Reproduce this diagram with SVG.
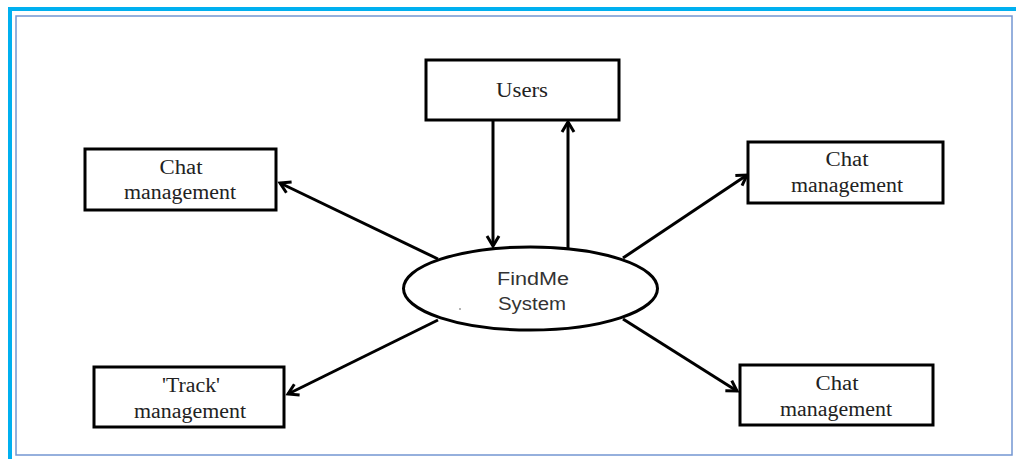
<svg xmlns="http://www.w3.org/2000/svg" width="1016" height="459" viewBox="0 0 1016 459">
<style>
.box{fill:#fff;stroke:#000;stroke-width:3}
.lbl{font-family:"Liberation Serif","Times New Roman",serif;font-size:20px;fill:#222;text-anchor:middle}
.sys{font-family:"Liberation Sans",Arial,sans-serif;font-size:18px;fill:#333;text-anchor:middle}
.conn{stroke:#000;stroke-width:3;fill:none}
</style>
<defs>
<marker id="ah" markerUnits="userSpaceOnUse" markerWidth="20" markerHeight="20" viewBox="-14 -10 18 20" refX="0" refY="0" orient="auto">
<path d="M -10 -6 L 0 0 L -10 6" fill="none" stroke="#000" stroke-width="3" stroke-linejoin="miter"/>
</marker>
</defs>
<rect x="-2" y="0" width="1030" height="470" fill="#fff"/>
<rect x="10" y="9" width="1020" height="470" fill="none" stroke="#00B0F0" stroke-width="4"/>
<rect x="16" y="16" width="996" height="439" fill="none" stroke="#7396D2" stroke-width="1.5"/>
<g id="connectors">
<line class="conn" x1="493" y1="120" x2="493" y2="246" marker-end="url(#ah)"/>
<line class="conn" x1="568" y1="249" x2="568" y2="122" marker-end="url(#ah)"/>
<line class="conn" x1="438" y1="259" x2="280" y2="183" marker-end="url(#ah)"/>
<line class="conn" x1="623" y1="258" x2="747" y2="175" marker-end="url(#ah)"/>
<line class="conn" x1="438" y1="320" x2="288" y2="394" marker-end="url(#ah)"/>
<line class="conn" x1="623" y1="319" x2="737" y2="391" marker-end="url(#ah)"/>
</g>
<g id="users">
<rect class="box" x="426" y="60" width="193" height="60"/>
<text class="lbl" x="522" y="97" textLength="52" lengthAdjust="spacingAndGlyphs">Users</text>
</g>
<g id="findme">
<ellipse cx="530.5" cy="288.5" rx="127" ry="41.5" fill="#fff" stroke="#000" stroke-width="3"/>
<text class="sys" x="533" y="285" textLength="72" lengthAdjust="spacingAndGlyphs">FindMe</text>
<text class="sys" x="532" y="310" textLength="68" lengthAdjust="spacingAndGlyphs">System</text>
<circle cx="460" cy="309" r="0.8" fill="#555"/>
</g>
<g id="chat-top-left">
<rect class="box" x="85" y="149" width="191" height="61"/>
<text class="lbl" x="181" y="174" textLength="43" lengthAdjust="spacingAndGlyphs">Chat</text>
<text class="lbl" x="180" y="199" textLength="112" lengthAdjust="spacingAndGlyphs">management</text>
</g>
<g id="chat-top-right">
<rect class="box" x="748" y="142" width="195" height="61"/>
<text class="lbl" x="847" y="166" textLength="43" lengthAdjust="spacingAndGlyphs">Chat</text>
<text class="lbl" x="847" y="192" textLength="112" lengthAdjust="spacingAndGlyphs">management</text>
</g>
<g id="track">
<rect class="box" x="94" y="367" width="190" height="60"/>
<text class="lbl" x="191" y="392" textLength="58" lengthAdjust="spacingAndGlyphs">'Track'</text>
<text class="lbl" x="190" y="418" textLength="112" lengthAdjust="spacingAndGlyphs">management</text>
</g>
<g id="chat-bottom-right">
<rect class="box" x="740" y="365" width="193" height="60"/>
<text class="lbl" x="837" y="390" textLength="43" lengthAdjust="spacingAndGlyphs">Chat</text>
<text class="lbl" x="836" y="416" textLength="112" lengthAdjust="spacingAndGlyphs">management</text>
</g>
</svg>
